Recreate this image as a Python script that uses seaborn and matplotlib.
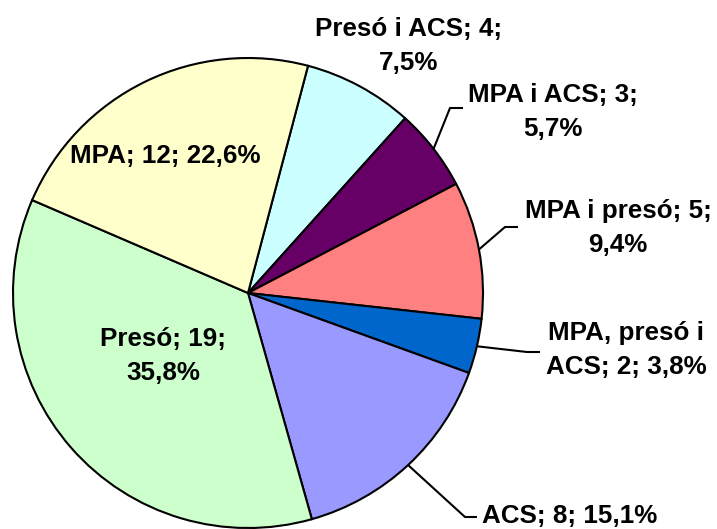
import numpy as np
import matplotlib
matplotlib.use("Agg")
import matplotlib.pyplot as plt
import seaborn as sns

# data (clockwise from the top-right, as in the original chart)
categories = ["Presó i ACS", "MPA i ACS", "MPA i presó", "MPA, presó i ACS",
              "ACS", "Presó", "MPA"]
counts = [4, 3, 5, 2, 8, 19, 12]
labels = ["Presó i ACS; 4;\n7,5%", "MPA i ACS; 3;\n5,7%", "MPA i presó; 5;\n9,4%",
          "MPA, presó i\nACS; 2; 3,8%", "ACS; 8; 15,1%", "Presó; 19;\n35,8%",
          "MPA; 12; 22,6%"]
colors = ["#CCFFFF", "#660066", "#FF8080", "#0066CC", "#9999FF", "#CCFFCC", "#FFFFCC"]

W, H = 717, 529

sns.set_theme(style="white")
plt.rcParams["font.family"] = ["Liberation Sans", "DejaVu Sans"]

fig = plt.figure(figsize=(W / 100, H / 100), dpi=100)
ax = fig.add_axes([0, 0, 1, 1])

cx, cy, r = 248, H - 293, 235
wedges, _ = ax.pie(counts, colors=colors, startangle=75.2, counterclock=False,
                   center=(cx, cy), radius=r, frame=True,
                   wedgeprops=dict(edgecolor="black", linewidth=1.5))
ax.set_xlim(0, W)
ax.set_ylim(0, H)
ax.set_aspect("equal")
ax.axis("off")

# label placement: (x, y from top) of text centre, and leader elbow (None = no leader)
label_pos = [(409, 46), (553, 112), (618, 228), (626, 350), (570, 516), (163, 356), (165, 156)]
elbows = [None, ((450, 108), (463, 108)), ((505, 227), (518, 227)),
          ((527, 352), (540, 352)), ((465, 517), (477, 517)), None, None]

for w, lab, pos, elb in zip(wedges, labels, label_pos, elbows):
    ax.text(pos[0], H - pos[1], lab, ha="center", va="center", fontsize=18.7,
            fontweight="bold", color="black", linespacing=1.55)
    if elb is not None:
        mid = np.deg2rad((w.theta1 + w.theta2) / 2)
        x0, y0 = cx + r * np.cos(mid), cy + r * np.sin(mid)
        xs = [x0, elb[0][0], elb[1][0]]
        ys = [y0, H - elb[0][1], H - elb[1][1]]
        ax.plot(xs, ys, color="black", linewidth=1.5, solid_capstyle="butt")

fig.savefig("out.png", dpi=100)
